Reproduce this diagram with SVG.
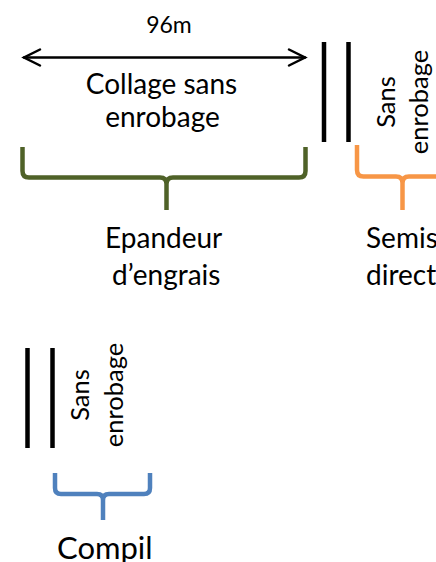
<svg xmlns="http://www.w3.org/2000/svg" width="436" height="562" viewBox="0 0 436 562">
<style>
text{font-family:Lato,"Liberation Sans",sans-serif;fill:#000}
.lbl{font-size:28px}
.rot{font-size:25.5px;text-anchor:middle}
.bar{stroke:#000;stroke-width:4.5;fill:none}
.brace{fill:none;stroke-width:4.5;stroke-linecap:butt;stroke-linejoin:round}
.arr{stroke:#000;stroke-width:2.5;fill:none;stroke-linecap:round;stroke-linejoin:miter}
</style>
<rect width="436" height="562" fill="#fff"/>
<g id="connectors">
  <g id="dim-arrow">
    <line class="arr" x1="24" y1="57.5" x2="305" y2="57.5"/>
    <polyline class="arr" points="40,49.5 24,57.5 40,65.5"/>
    <polyline class="arr" points="289,49.5 305,57.5 289,65.5"/>
  </g>
  <path id="brace-green" class="brace" stroke="#4f6228" d="M22.5,147 V171 Q22.5,177.5 29,177.5 H160 Q166.5,177.5 166.5,184 V210 M166.5,184 Q166.5,177.5 173,177.5 H299 Q305.5,177.5 305.5,171 V147"/>
  <path id="brace-orange" class="brace" stroke="#f79646" d="M357,145 V170 Q357,176.5 363.5,176.5 H396 Q402.5,176.5 402.5,183 V210 M402.5,183 Q402.5,176.5 409,176.5 H441 Q447.5,176.5 447.5,170 V145"/>
  <path id="brace-blue" class="brace" stroke="#4f81bd" d="M55,473 V488 Q55,494 61,494 H97 Q103,494 103,500 V520 M103,500 Q103,494 109,494 H144 Q150,494 150,488 V473"/>
</g>
<g id="dim-label"><text class="lbl" x="169" y="32.5" text-anchor="middle" style="font-size:23px">96m</text></g>
<g id="collage"><text class="lbl" text-anchor="middle"><tspan x="161.5" y="94">Collage sans</tspan><tspan x="162.5" y="127">enrobage</tspan></text></g>
<g id="bars-top">
  <line class="bar" x1="324" y1="42" x2="324" y2="142"/>
  <line class="bar" x1="348.5" y1="42" x2="348.5" y2="142"/>
</g>
<g id="sans-top"><g transform="translate(0,102) rotate(-90)"><text class="rot"><tspan x="0" y="395">Sans</tspan><tspan x="0" y="428">enrobage</tspan></text></g></g>
<g id="epandeur"><text class="lbl"><tspan x="105" y="248">Epandeur</tspan><tspan x="112" y="285">d’engrais</tspan></text></g>
<g id="semis"><text class="lbl"><tspan x="366" y="248">Semis</tspan><tspan x="366" y="285">direct</tspan></text></g>
<g id="bars-bottom">
  <line class="bar" x1="27.5" y1="348" x2="27.5" y2="448"/>
  <line class="bar" x1="52.5" y1="348" x2="52.5" y2="448"/>
</g>
<g id="sans-bottom"><g transform="translate(0,395) rotate(-90)"><text class="rot"><tspan x="0" y="88.5">Sans</tspan><tspan x="0" y="122.5">enrobage</tspan></text></g></g>
<g id="compil"><text class="lbl" x="57" y="559" style="font-size:31px">Compil</text></g>
</svg>
